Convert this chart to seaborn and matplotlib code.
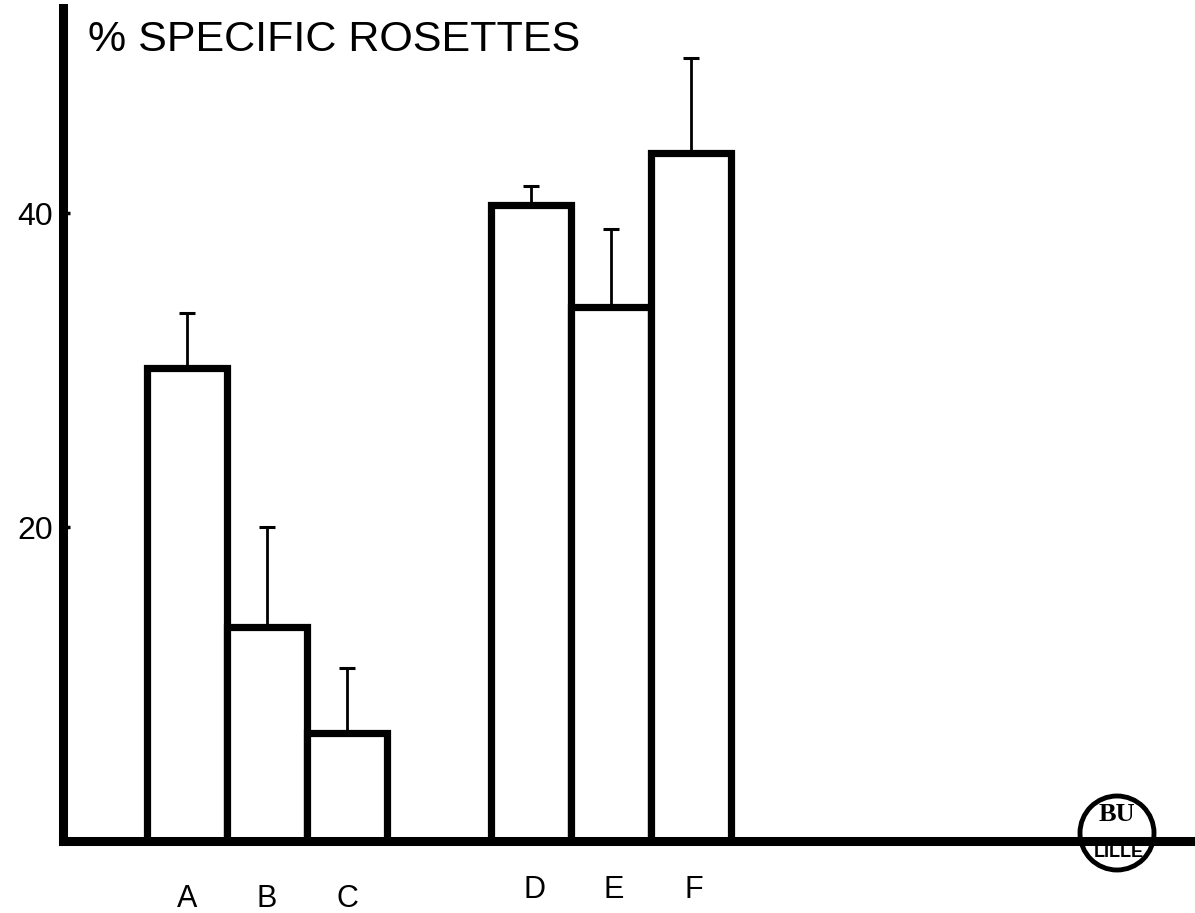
import numpy as np
import pandas as pd
import matplotlib
matplotlib.use('Agg')
from matplotlib import pyplot as plt
from matplotlib.patches import Circle
from matplotlib.transforms import ScaledTranslation
import seaborn as sns

# bar groups
groups = ['A', 'B', 'C', 'D', 'E', 'F']
positions = [0, 1, 2, 4.3, 5.3, 6.3]
values = [30.1, 13.6, 6.9, 40.5, 34.0, 43.8]
errors = [3.5, 6.4, 4.1, 1.2, 5.0, 6.1]
ytick_values = [20, 40]


def main():
    sns.set_style('white')
    plt.rcParams['font.family'] = ['Liberation Sans', 'DejaVu Sans']
    plt.rcParams['text.color'] = 'black'
    plt.rcParams['xtick.labelcolor'] = 'black'
    plt.rcParams['ytick.labelcolor'] = 'black'

    W, H = 1195, 913
    fig = plt.figure(figsize=(W / 100, H / 100), dpi=100)
    ax = fig.add_axes([63 / W, (H - 841) / H, (W - 63) / W, (841 - 8) / H])

    df = pd.DataFrame({'pos': positions, 'pct': values})
    sns.barplot(data=df, x='pos', y='pct', native_scale=True, width=1.0,
                color='white', edgecolor='black', linewidth=5.2,
                errorbar=None, ax=ax)
    ax.errorbar(positions, values, yerr=[np.zeros(len(errors)), errors],
                fmt='none', ecolor='black', elinewidth=2, capsize=5.5,
                capthick=2.2, zorder=3)

    ax.set_xlim((63 - 187) / 80, (W - 187) / 80)
    ax.set_ylim(0, (841 - 8) / 15.7)

    sns.despine(ax=ax, top=True, right=True)
    for side in ['left', 'bottom']:
        ax.spines[side].set_linewidth(6.5)
        ax.spines[side].set_color('black')
        ax.spines[side].set_zorder(5)

    ax.set_yticks(ytick_values)
    ax.set_yticklabels([str(v) for v in ytick_values])
    ax.tick_params(axis='y', direction='in', length=5, width=2.5,
                   labelsize=23, pad=7, left=True, color='black',
                   labelcolor='black')

    ax.set_xticks(positions)
    ax.set_xticklabels(groups)
    ax.tick_params(axis='x', length=0, labelsize=22, pad=31,
                   labelcolor='black')
    for lab in ax.get_xticklabels()[3:]:
        lab.set_transform(lab.get_transform() +
                          ScaledTranslation(0.03, 0.09, fig.dpi_scale_trans))
    ax.set_xlabel('')
    ax.set_ylabel('')

    fig.text(88 / W, 1 - 40 / H, '% SPECIFIC ROSETTES', fontsize=31,
             ha='left', va='center', color='black')

    # library stamp at the lower right
    fig.add_artist(Circle((11.17, (H - 833) / 100), 0.37, fill=False,
                          lw=3.5, color='black', transform=fig.dpi_scale_trans))
    fig.text(1117 / W, 1 - 814 / H, 'BU', family='Liberation Serif',
             weight='bold', fontsize=19, ha='center', va='center',
             color='black')
    fig.text(1119 / W, 1 - 852 / H, 'LILLE', weight='bold', fontsize=13,
             ha='center', va='center', color='black')

    fig.savefig('out.png', dpi=100, facecolor='white')


if __name__ == '__main__':
    main()
